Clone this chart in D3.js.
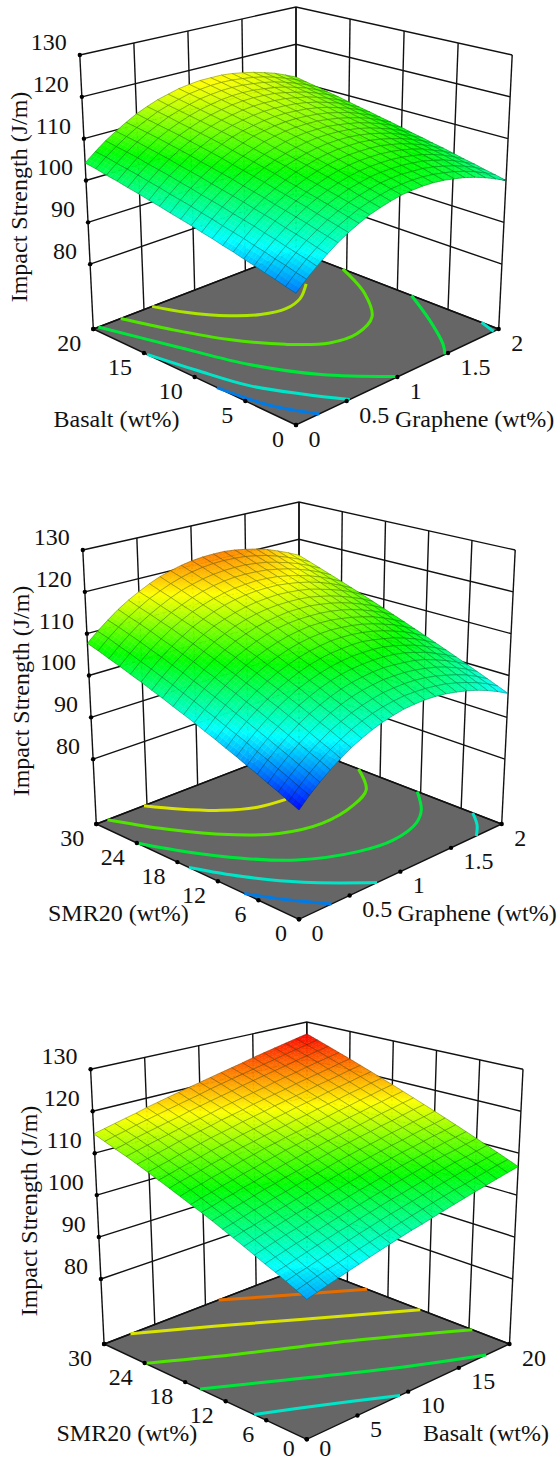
<!DOCTYPE html>
<html>
<head>
<meta charset="utf-8">
<script src="https://d3js.org/d3.v7.min.js"></script>
<style>
    body { margin: 0; background: #fff; }
    text { font-family: "Liberation Serif", "Times New Roman", serif; font-size: 24px; fill: #111; }
</style>
</head>
<body>
<article></article>
<script>
const zTicks = [80, 90, 100, 110, 120, 130]
const grapheneTicks = [0, 0.5, 1, 1.5, 2]
const basaltTicks = [0, 5, 10, 15, 20]
const smrTicks = [0, 6, 12, 18, 24, 30]

// surface heights, rows go along the left floor axis, columns along the right one
const basaltGraphene = [
    [91.3,93.4,95.3,97.1,98.7,100.1,101.3,102.4,103.2,103.9,104.5,104.8,105.0,105.0,104.8,104.4,103.9,103.2,102.3,101.2,100.0],
    [91.9,94.0,96.0,97.7,99.3,100.7,101.9,103.0,103.8,104.5,105.1,105.4,105.6,105.6,105.4,105.0,104.5,103.8,102.9,101.8,100.6],
    [92.6,94.7,96.6,98.4,99.9,101.3,102.5,103.6,104.4,105.1,105.7,106.0,106.2,106.1,106.0,105.6,105.0,104.3,103.4,102.4,101.1],
    [93.2,95.3,97.2,99.0,100.6,101.9,103.2,104.2,105.1,105.7,106.3,106.6,106.7,106.7,106.5,106.2,105.6,104.9,104.0,102.9,101.7],
    [93.9,96.0,97.9,99.6,101.2,102.6,103.8,104.8,105.7,106.4,106.9,107.2,107.3,107.3,107.1,106.7,106.2,105.5,104.6,103.5,102.2],
    [94.5,96.6,98.5,100.3,101.8,103.2,104.4,105.4,106.3,107.0,107.5,107.8,107.9,107.9,107.7,107.3,106.8,106.1,105.1,104.1,102.8],
    [95.2,97.3,99.2,100.9,102.4,103.8,105.0,106.0,106.9,107.6,108.1,108.4,108.5,108.5,108.3,107.9,107.4,106.6,105.7,104.6,103.4],
    [95.8,97.9,99.8,101.5,103.1,104.4,105.6,106.7,107.5,108.2,108.7,109.0,109.1,109.1,108.9,108.5,107.9,107.2,106.3,105.2,103.9],
    [96.5,98.5,100.4,102.2,103.7,105.1,106.3,107.3,108.1,108.8,109.3,109.6,109.7,109.7,109.5,109.1,108.5,107.8,106.8,105.7,104.5],
    [97.1,99.2,101.1,102.8,104.3,105.7,106.9,107.9,108.7,109.4,109.9,110.2,110.3,110.3,110.1,109.7,109.1,108.3,107.4,106.3,105.0],
    [97.8,99.8,101.7,103.4,105.0,106.3,107.5,108.5,109.3,110.0,110.5,110.8,110.9,110.9,110.6,110.2,109.7,108.9,108.0,106.9,105.6],
    [98.4,100.5,102.3,104.0,105.6,106.9,108.1,109.1,110.0,110.6,111.1,111.4,111.5,111.5,111.2,110.8,110.2,109.5,108.6,107.4,106.2],
    [99.0,101.1,103.0,104.7,106.2,107.6,108.7,109.7,110.6,111.2,111.7,112.0,112.1,112.0,111.8,111.4,110.8,110.1,109.1,108.0,106.7],
    [99.7,101.7,103.6,105.3,106.8,108.2,109.4,110.4,111.2,111.8,112.3,112.6,112.7,112.6,112.4,112.0,111.4,110.6,109.7,108.6,107.3],
    [100.3,102.4,104.3,105.9,107.5,108.8,110.0,111.0,111.8,112.4,112.9,113.2,113.3,113.2,113.0,112.6,112.0,111.2,110.3,109.1,107.8],
    [101.0,103.0,104.9,106.6,108.1,109.4,110.6,111.6,112.4,113.0,113.5,113.8,113.9,113.8,113.6,113.1,112.6,111.8,110.8,109.7,108.4],
    [101.6,103.7,105.5,107.2,108.7,110.1,111.2,112.2,113.0,113.6,114.1,114.4,114.5,114.4,114.2,113.7,113.1,112.4,111.4,110.3,109.0],
    [102.3,104.3,106.2,107.8,109.4,110.7,111.8,112.8,113.6,114.2,114.7,115.0,115.1,115.0,114.7,114.3,113.7,112.9,112.0,110.8,109.5],
    [102.9,104.9,106.8,108.5,110.0,111.3,112.5,113.4,114.2,114.9,115.3,115.6,115.7,115.6,115.3,114.9,114.3,113.5,112.5,111.4,110.1],
    [103.6,105.6,107.4,109.1,110.6,111.9,113.1,114.0,114.8,115.5,115.9,116.2,116.3,116.2,115.9,115.5,114.9,114.1,113.1,112.0,110.6],
    [104.2,106.2,108.1,109.7,111.2,112.6,113.7,114.7,115.4,116.1,116.5,116.8,116.8,116.8,116.5,116.0,115.4,114.6,113.7,112.5,111.2]
]

const smrGraphene = [
    [86.8,89.0,90.9,92.7,94.3,95.8,97.0,98.1,99.0,99.7,100.3,100.6,100.8,100.8,100.6,100.2,99.7,99.0,98.1,97.0,95.7],
    [87.8,90.0,92.0,93.8,95.4,96.8,98.1,99.2,100.1,100.8,101.3,101.7,101.8,101.8,101.6,101.3,100.7,100.0,99.1,98.0,96.7],
    [88.9,91.1,93.0,94.8,96.4,97.9,99.1,100.2,101.1,101.8,102.4,102.7,102.9,102.9,102.7,102.3,101.7,101.0,100.1,99.0,97.7],
    [89.9,92.1,94.1,95.9,97.5,98.9,100.2,101.3,102.2,102.9,103.4,103.8,103.9,103.9,103.7,103.3,102.8,102.0,101.1,100.0,98.7],
    [91.0,93.2,95.1,96.9,98.6,100.0,101.2,102.3,103.2,103.9,104.4,104.8,105.0,104.9,104.7,104.4,103.8,103.0,102.1,101.0,99.7],
    [92.0,94.2,96.2,98.0,99.6,101.1,102.3,103.4,104.3,105.0,105.5,105.8,106.0,106.0,105.8,105.4,104.8,104.1,103.1,102.0,100.7],
    [93.1,95.3,97.2,99.0,100.7,102.1,103.4,104.4,105.3,106.0,106.5,106.9,107.0,107.0,106.8,106.4,105.8,105.1,104.1,103.0,101.7],
    [94.1,96.3,98.3,100.1,101.7,103.2,104.4,105.5,106.4,107.1,107.6,107.9,108.1,108.1,107.8,107.4,106.9,106.1,105.2,104.0,102.7],
    [95.2,97.3,99.3,101.1,102.8,104.2,105.5,106.5,107.4,108.1,108.6,109.0,109.1,109.1,108.9,108.5,107.9,107.1,106.2,105.0,103.7],
    [96.2,98.4,100.4,102.2,103.8,105.3,106.5,107.6,108.5,109.2,109.7,110.0,110.2,110.1,109.9,109.5,108.9,108.1,107.2,106.0,104.7],
    [97.3,99.4,101.4,103.2,104.9,106.3,107.6,108.6,109.5,110.2,110.7,111.1,111.2,111.2,110.9,110.5,109.9,109.2,108.2,107.0,105.7],
    [98.3,100.5,102.5,104.3,105.9,107.4,108.6,109.7,110.6,111.3,111.8,112.1,112.2,112.2,112.0,111.6,111.0,110.2,109.2,108.1,106.7],
    [99.3,101.5,103.5,105.3,107.0,108.4,109.7,110.7,111.6,112.3,112.8,113.2,113.3,113.3,113.0,112.6,112.0,111.2,110.2,109.1,107.7],
    [100.4,102.6,104.6,106.4,108.0,109.5,110.7,111.8,112.7,113.4,113.9,114.2,114.3,114.3,114.1,113.6,113.0,112.2,111.2,110.1,108.7],
    [101.4,103.6,105.6,107.4,109.1,110.5,111.8,112.8,113.7,114.4,114.9,115.2,115.4,115.3,115.1,114.7,114.0,113.2,112.3,111.1,109.7],
    [102.5,104.7,106.7,108.5,110.1,111.6,112.8,113.9,114.8,115.5,116.0,116.3,116.4,116.4,116.1,115.7,115.1,114.3,113.3,112.1,110.7],
    [103.5,105.7,107.7,109.5,111.2,112.6,113.9,114.9,115.8,116.5,117.0,117.3,117.5,117.4,117.2,116.7,116.1,115.3,114.3,113.1,111.7],
    [104.6,106.8,108.8,110.6,112.2,113.7,114.9,116.0,116.9,117.6,118.1,118.4,118.5,118.4,118.2,117.7,117.1,116.3,115.3,114.1,112.7],
    [105.6,107.8,109.8,111.7,113.3,114.7,116.0,117.1,117.9,118.6,119.1,119.4,119.5,119.5,119.2,118.8,118.1,117.3,116.3,115.1,113.7],
    [106.7,108.9,110.9,112.7,114.3,115.8,117.0,118.1,119.0,119.7,120.2,120.5,120.6,120.5,120.3,119.8,119.2,118.3,117.3,116.1,114.7],
    [107.7,109.9,111.9,113.8,115.4,116.8,118.1,119.2,120.0,120.7,121.2,121.5,121.6,121.6,121.3,120.8,120.2,119.4,118.3,117.1,115.7]
]

const smrBasalt = [
    [92.9,93.6,94.3,95.0,95.7,96.4,97.1,97.8,98.5,99.2,99.9,100.5,101.2,101.9,102.6,103.3,104.0,104.7,105.4,106.1,106.8],
    [94.0,94.7,95.4,96.1,96.7,97.4,98.1,98.8,99.5,100.2,100.9,101.6,102.3,103.0,103.7,104.4,105.0,105.7,106.4,107.1,107.8],
    [95.1,95.8,96.4,97.1,97.8,98.5,99.2,99.9,100.6,101.3,102.0,102.6,103.3,104.0,104.7,105.4,106.1,106.8,107.4,108.1,108.8],
    [96.2,96.8,97.5,98.2,98.9,99.6,100.3,100.9,101.6,102.3,103.0,103.7,104.3,105.0,105.7,106.4,107.1,107.8,108.4,109.1,109.8],
    [97.2,97.9,98.6,99.3,99.9,100.6,101.3,102.0,102.7,103.3,104.0,104.7,105.4,106.0,106.7,107.4,108.1,108.8,109.4,110.1,110.8],
    [98.3,99.0,99.7,100.4,101.0,101.7,102.4,103.0,103.7,104.4,105.1,105.7,106.4,107.1,107.8,108.4,109.1,109.8,110.5,111.1,111.8],
    [99.4,100.1,100.8,101.4,102.1,102.8,103.4,104.1,104.8,105.4,106.1,106.8,107.5,108.1,108.8,109.5,110.1,110.8,111.5,112.1,112.8],
    [100.5,101.2,101.8,102.5,103.2,103.8,104.5,105.2,105.8,106.5,107.2,107.8,108.5,109.1,109.8,110.5,111.1,111.8,112.5,113.1,113.8],
    [101.6,102.2,102.9,103.6,104.2,104.9,105.5,106.2,106.9,107.5,108.2,108.9,109.5,110.2,110.8,111.5,112.2,112.8,113.5,114.1,114.8],
    [102.7,103.3,104.0,104.6,105.3,106.0,106.6,107.3,107.9,108.6,109.2,109.9,110.6,111.2,111.9,112.5,113.2,113.8,114.5,115.2,115.8],
    [103.8,104.4,105.1,105.7,106.4,107.0,107.7,108.3,109.0,109.6,110.3,110.9,111.6,112.2,112.9,113.5,114.2,114.9,115.5,116.2,116.8],
    [104.8,105.5,106.1,106.8,107.4,108.1,108.7,109.4,110.0,110.7,111.3,112.0,112.6,113.3,113.9,114.6,115.2,115.9,116.5,117.2,117.8],
    [105.9,106.6,107.2,107.9,108.5,109.1,109.8,110.4,111.1,111.7,112.4,113.0,113.6,114.3,114.9,115.6,116.2,116.9,117.5,118.2,118.8],
    [107.0,107.7,108.3,108.9,109.6,110.2,110.9,111.5,112.1,112.8,113.4,114.0,114.7,115.3,116.0,116.6,117.2,117.9,118.5,119.2,119.8],
    [108.1,108.7,109.4,110.0,110.6,111.3,111.9,112.5,113.2,113.8,114.4,115.1,115.7,116.4,117.0,117.6,118.3,118.9,119.5,120.2,120.8],
    [109.2,109.8,110.4,111.1,111.7,112.3,113.0,113.6,114.2,114.9,115.5,116.1,116.8,117.4,118.0,118.6,119.3,119.9,120.5,121.2,121.8],
    [110.3,110.9,111.5,112.1,112.8,113.4,114.0,114.6,115.3,115.9,116.5,117.2,117.8,118.4,119.0,119.7,120.3,120.9,121.5,122.2,122.8],
    [111.4,112.0,112.6,113.2,113.8,114.5,115.1,115.7,116.3,117.0,117.6,118.2,118.8,119.4,120.1,120.7,121.3,122.0,122.6,123.2,123.8],
    [112.4,113.0,113.7,114.3,114.9,115.5,116.1,116.8,117.4,118.0,118.6,119.2,119.9,120.5,121.1,121.7,122.3,123.0,123.6,124.2,124.8],
    [113.5,114.1,114.7,115.4,116.0,116.6,117.2,117.8,118.4,119.0,119.7,120.3,120.9,121.5,122.1,122.7,123.3,124.0,124.6,125.2,125.8],
    [114.6,115.2,115.8,116.4,117.0,117.7,118.3,118.9,119.5,120.1,120.7,121.3,121.9,122.5,123.1,123.8,124.4,125.0,125.6,126.2,126.8]
]

// contour lines on the floor: [level, [[left axis value, right axis value], ...]]
const contoursBasaltGraphene = [
    [114, [[20,.58],[17.6,.67],[15,.84],[13.6,1.01],[13.1,1.21],[13.7,1.41],[15.3,1.63]]],
    [110, [[20,.27],[16.1,.38],[12.2,.56],[8.9,.79],[6.9,1.02],[6.5,1.25],[7.8,1.53],[11.1,1.79],[15.4,2]]],
    [104, [[20,.05],[13.9,.23],[8.6,.40],[4,.65],[0,1.01]]],
    [104, [[8.6,2],[4.5,1.77],[1.2,1.57],[0,1.47]]],
    [98, [[14.7,0],[10.6,.08],[6.4,.18],[2.8,.36],[0,.53]]],
    [98, [[1.7,2],[0,1.95]]],
    [92, [[7.8,0],[3.2,.08],[0,.23]]]
]

const contoursSmrGraphene = [
    [116, [[30,.47],[26.8,.60],[23.4,.79],[21.3,1.01],[20.7,1.25]]],
    [110, [[30,.11],[24.6,.27],[19.1,.51],[15,.80],[13.4,1.12],[14.6,1.51],[16.6,1.77],[21.2,2]]],
    [104, [[24,0],[19,.15],[13.8,.36],[9.5,.61],[6.3,1],[5.5,1.30],[6.5,1.59],[8.6,1.78],[12.5,2]]],
    [98, [[16.3,0],[10.9,.17],[5.5,.41],[0,.77]]],
    [98, [[4.3,2],[1.7,1.87],[0,1.75]]],
    [92, [[8.1,0],[4.1,.14],[0,.32]]]
]

const contoursSmrBasalt = [
    [122, [[30,11.3],[25.5,15.6],[21.1,20]]],
    [116, [[30,2.6],[25.3,7.7],[20,13],[13.2,20]]],
    [110, [[23.9,0],[18.8,5.2],[12,13],[5.5,20]]],
    [104, [[15.8,0],[10.9,5.2],[4.8,11.7],[0,17.7]]],
    [98, [[7.8,0],[4.3,4.3],[0,9.2]]]
]

const m = { width: 560, height: 1461 }

const svg = d3.select("article").append('svg')
    .attr('width', m.width)
    .attr('height', m.height)
    .style('display', 'block')

const colorScale = d3.scaleLinear()
    .domain([86.5, 96.7, 106.5, 116.5, 127])
    .range(['#0000ff', '#00ffff', '#00ff00', '#ffff00', '#ff0000'])

const zScale = d3.scaleLinear().domain([64.5, 130]).range([0, 1])

const charts = [
    {
        z: basaltGraphene, contours: contoursBasaltGraphene,
        leftTicks: basaltTicks, rightTicks: grapheneTicks,
        leftName: 'Basalt (wt%)', rightName: 'Graphene (wt%)',
        fx: 296, fy: 425, dyF: 96, h0: 322, h1: 274,
        leftNameX: 53.5, rightNameX: 395, nameY: 426.5, zNameX: 27, zNameY: 197
    },
    {
        z: smrGraphene, contours: contoursSmrGraphene,
        leftTicks: smrTicks, rightTicks: grapheneTicks,
        leftName: 'SMR20 (wt%)', rightName: 'Graphene (wt%)',
        fx: 299, fy: 919.3, dyF: 95.3, h0: 321, h1: 274,
        leftNameX: 48, rightNameX: 397.5, nameY: 920.5, zNameX: 29, zNameY: 691
    },
    {
        z: smrBasalt, contours: contoursSmrBasalt,
        leftTicks: smrTicks, rightTicks: basaltTicks,
        leftName: 'SMR20 (wt%)', rightName: 'Basalt (wt%)',
        fx: 306.8, fy: 1439.3, dyF: 95.3, h0: 322.7, h1: 274.7,
        leftNameX: 56.5, rightNameX: 423, nameY: 1440.5, zNameX: 37, zNameY: 1211
    }
]

const shade = 3 // colour steps inside one mesh cell

charts.forEach(function (c) {
    const g = svg.append('g')

    const uScale = d3.scaleLinear().domain(d3.extent(c.leftTicks)).range([0, 1])
    const vScale = d3.scaleLinear().domain(d3.extent(c.rightTicks)).range([0, 1])

    // box view: the floor and the walls shrink a little towards the back corner
    function project(u, v, w) {
        const s = u + v
        const floor = s <= 1 ? c.fy - c.dyF * s : c.fy - c.dyF - 78 * (s - 1)
        const h = s <= 1 ? c.h0 + (c.h1 - c.h0) * s : c.h1 + (244 - c.h1) * (s - 1)
        return [c.fx + (v - u) * (202.7 + 13.5 * w), floor - w * h]
    }

    const line = d3.line()

    function wall(points) {
        g.append('path')
            .attr('d', line(points))
            .attr('fill', 'none')
            .attr('stroke', '#111')
            .attr('stroke-width', 1.4)
    }

    function dot(p) {
        g.append('circle')
            .attr('cx', p[0])
            .attr('cy', p[1])
            .attr('r', 2.2)
            .attr('fill', '#000')
    }

    // floor
    g.append('path')
        .attr('d', line([project(0, 0, 0), project(1, 0, 0), project(1, 1, 0), project(0, 1, 0)]) + 'Z')
        .attr('fill', '#666')
        .attr('stroke', '#111')
        .attr('stroke-width', 1.4)

    // walls
    const wallLevels = [zScale.domain()[0]].concat(zTicks)
    wallLevels.forEach(function (z) {
        const w = zScale(z)
        wall([project(1, 0, w), project(1, 1, w), project(0, 1, w)])
    })
    c.rightTicks.forEach(function (t) {
        const v = vScale(t)
        wall([project(1, v, 0), project(1, v, 1)])
    })
    c.leftTicks.forEach(function (t) {
        const u = uScale(t)
        wall([project(u, 1, 0), project(u, 1, 1)])
    })

    // contours on the floor
    const contourLine = d3.line().curve(d3.curveCatmullRom)
    c.contours.forEach(function (d) {
        g.append('path')
            .attr('d', contourLine(d[1].map(function (p) {
                return project(uScale(p[0]), vScale(p[1]), 0)
            })))
            .attr('fill', 'none')
            .attr('stroke', d3.color(colorScale(d[0])).darker(0.3))
            .attr('stroke-width', 3)
    })

    // surface cells, painted from the back corner to the front
    const cells = []
    d3.range(20).forEach(function (i) {
        d3.range(20).forEach(function (j) {
            cells.push({ i: i, j: j })
        })
    })
    cells.sort(function (a, b) { return (b.i + b.j) - (a.i + a.j) })

    const surface = g.append('g')
    cells.forEach(function (d) {
        const z00 = c.z[d.i][d.j], z10 = c.z[d.i + 1][d.j]
        const z01 = c.z[d.i][d.j + 1], z11 = c.z[d.i + 1][d.j + 1]
        const zAt = function (a, b) {
            return z00 * (1 - a) * (1 - b) + z10 * a * (1 - b) + z01 * (1 - a) * b + z11 * a * b
        }
        const at = function (a, b) {
            return project((d.i + a) / 20, (d.j + b) / 20, zScale(zAt(a, b)))
        }
        d3.range(shade).forEach(function (p) {
            d3.range(shade).forEach(function (q) {
                const a0 = p / shade, a1 = (p + 1) / shade, b0 = q / shade, b1 = (q + 1) / shade
                const col = colorScale(zAt((a0 + a1) / 2, (b0 + b1) / 2))
                surface.append('path')
                    .attr('d', line([at(a0, b0), at(a1, b0), at(a1, b1), at(a0, b1)]) + 'Z')
                    .attr('fill', col)
                    .attr('stroke', col)
                    .attr('stroke-width', 0.4)
            })
        })
        surface.append('path')
            .attr('d', line([at(0, 0), at(1, 0), at(1, 1), at(0, 1)]) + 'Z')
            .attr('fill', 'none')
            .attr('stroke', 'rgba(0,30,0,0.5)')
            .attr('stroke-width', 0.55)
    })

    // z axis
    zTicks.forEach(function (z) {
        const p = project(1, 0, zScale(z))
        dot(p)
        g.append('text')
            .attr('x', p[0] - 13)
            .attr('y', p[1] - 5)
            .attr('text-anchor', 'end')
            .text(z)
    })
    dot(project(1, 0, 0))

    // floor axes
    c.leftTicks.forEach(function (t) {
        const p = project(uScale(t), 0, 0)
        dot(p)
        g.append('text')
            .attr('x', p[0] - 12)
            .attr('y', Math.min(p[1] + 21.5, m.height - 5))
            .attr('text-anchor', 'end')
            .text(t)
    })
    c.rightTicks.forEach(function (t) {
        const p = project(0, vScale(t), 0)
        dot(p)
        g.append('text')
            .attr('x', p[0] + 12.5)
            .attr('y', Math.min(p[1] + 21.5, m.height - 5))
            .text(t)
    })

    g.append('text').attr('x', c.leftNameX).attr('y', c.nameY).text(c.leftName)
    g.append('text').attr('x', c.rightNameX).attr('y', c.nameY).text(c.rightName)
    g.append('text')
        .attr('transform', 'translate(' + c.zNameX + ',' + c.zNameY + ') rotate(-90)')
        .attr('text-anchor', 'middle')
        .text('Impact Strength (J/m)')
})
</script>
</body>
</html>
